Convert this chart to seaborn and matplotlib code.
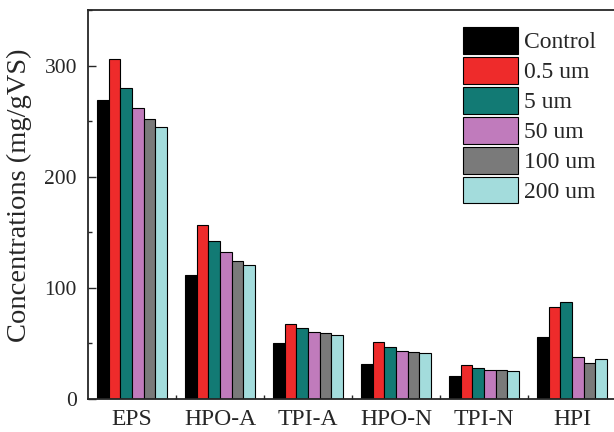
import matplotlib
matplotlib.use('Agg')
import matplotlib.pyplot as plt
import seaborn as sns
import pandas as pd
from matplotlib.ticker import MultipleLocator, FixedLocator

fractions = ['EPS', 'HPO-A', 'TPI-A', 'HPO-N', 'TPI-N', 'HPI']
treatments = ['Control', '0.5 um', '5 um', '50 um', '100 um', '200 um']

control = [269, 112, 50, 31.5, 20.5, 56]
um_0_5 = [306, 157, 67.5, 51.5, 30.5, 83]
um_5 = [280, 142, 63.5, 46.5, 28, 87]
um_50 = [262, 132, 60.5, 43.5, 26.5, 38]
um_100 = [252, 124.5, 59.5, 42, 26.5, 32.5]
um_200 = [245, 120.5, 58, 41.5, 25.5, 36]

colors = ['#000000', '#EE2B2B', '#127A74', '#C07BBC', '#7A7A7A', '#A3DCDC']

series = [control, um_0_5, um_5, um_50, um_100, um_200]
rows = []
for name, vals in zip(treatments, series):
    for frac, v in zip(fractions, vals):
        rows.append({'fraction': frac, 'treatment': name, 'value': v})
df = pd.DataFrame(rows)

sns.set_style('ticks')
plt.rcParams['font.family'] = ['Liberation Serif', 'DejaVu Serif']

fig = plt.figure(figsize=(6.14, 4.32), dpi=100)
ax = fig.add_axes([88 / 614, 33 / 432, 528 / 614, 389 / 432])

sns.barplot(data=df, x='fraction', y='value', hue='treatment', order=fractions,
            hue_order=treatments, palette=colors, saturation=1, width=0.8,
            edgecolor='black', linewidth=0.8, ax=ax)

ax.set_xlim(-0.5, 5.5)
ax.set_ylim(0, 350)
ax.yaxis.set_major_locator(MultipleLocator(100))
ax.yaxis.set_minor_locator(MultipleLocator(50))
ax.xaxis.set_minor_locator(FixedLocator([0.5, 1.5, 2.5, 3.5, 4.5]))
ax.tick_params(axis='y', which='major', direction='in', length=6, width=1,
               labelsize=15.5, pad=8)
ax.tick_params(axis='y', which='minor', direction='in', length=3, width=1)
ax.tick_params(axis='x', which='major', length=0, labelsize=17, pad=7)
ax.tick_params(axis='x', which='minor', direction='in', length=3, width=1)
ax.set_xlabel('')
ax.set_ylabel('Concentrations (mg/gVS)', fontsize=20.5)
ax.yaxis.set_label_coords(-0.106, 0.524)
for s in ax.spines.values():
    s.set_linewidth(1.3)

ax.legend(loc='upper left', bbox_to_anchor=(463 / 614, 1 - 27 / 432),
          bbox_transform=fig.transFigure, frameon=False, fontsize=17,
          handlelength=2.33, handleheight=1.36, labelspacing=0.14,
          handletextpad=0.25, borderpad=0, borderaxespad=0)

fig.savefig('out.png', dpi=100)
